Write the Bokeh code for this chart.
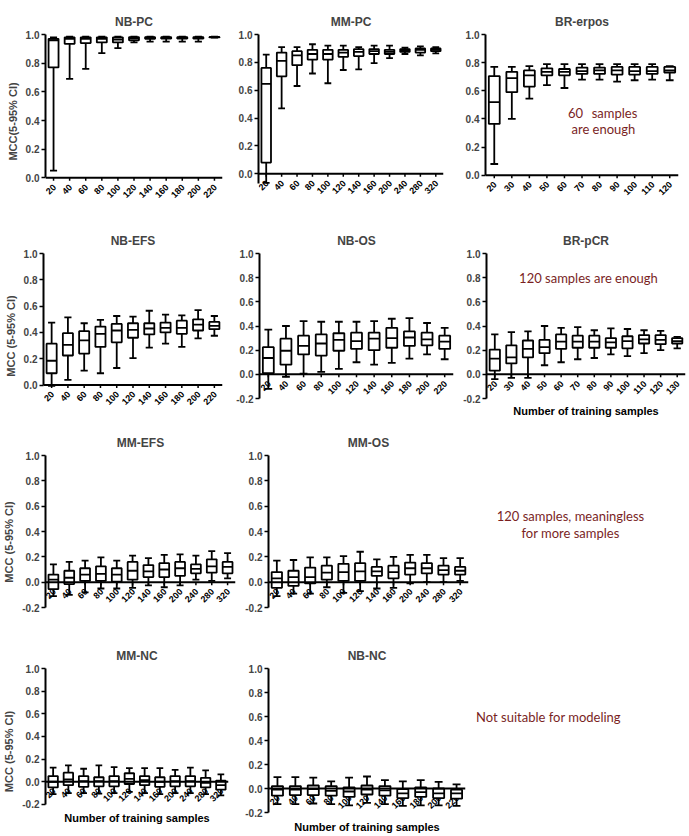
import math
from bokeh.plotting import figure
from bokeh.models import (FixedTicker, PrintfTickFormatter, Label, Range1d, Span,
                          ColumnDataSource, FactorRange)
from bokeh.core.properties import value
from bokeh.layouts import column, row
from bokeh.transform import dodge
from bokeh.embed import file_html
from bokeh.resources import INLINE

FONT = "Liberation Sans"
RED = "#7a1f1f"

# ---------------- data ----------------
NB_CATS = ["20", "40", "60", "80", "100", "120", "140", "160", "180", "200", "220"]
MM_CATS = ["20", "40", "60", "80", "100", "120", "140", "160", "200", "240", "280", "320"]
BRE_CATS = ["20", "30", "40", "50", "60", "70", "80", "90", "100", "110", "120"]
BRP_CATS = ["20", "30", "40", "50", "60", "70", "80", "90", "100", "110", "120", "130"]

NB_PC_LO = [0.05, 0.69, 0.76, 0.87, 0.905, 0.945, 0.95, 0.95, 0.95, 0.95, 0.978]
NB_PC_Q1 = [0.77, 0.935, 0.94, 0.945, 0.945, 0.96, 0.97, 0.972, 0.972, 0.972, 0.98]
NB_PC_MED = [0.96, 0.97, 0.97, 0.97, 0.965, 0.975, 0.978, 0.978, 0.978, 0.978, 0.982]
NB_PC_Q3 = [0.97, 0.98, 0.98, 0.98, 0.98, 0.982, 0.982, 0.982, 0.982, 0.982, 0.983]
NB_PC_HI = [0.98, 0.985, 0.985, 0.985, 0.985, 0.985, 0.985, 0.985, 0.985, 0.985, 0.985]

MM_PC_LO = [-0.065, 0.47, 0.63, 0.72, 0.65, 0.745, 0.75, 0.795, 0.83, 0.86, 0.85, 0.865]
MM_PC_Q1 = [0.08, 0.70, 0.78, 0.82, 0.82, 0.84, 0.845, 0.86, 0.86, 0.875, 0.87, 0.88]
MM_PC_MED = [0.645, 0.81, 0.85, 0.86, 0.86, 0.87, 0.875, 0.88, 0.875, 0.885, 0.89, 0.89]
MM_PC_Q3 = [0.76, 0.87, 0.88, 0.89, 0.89, 0.89, 0.895, 0.895, 0.89, 0.895, 0.90, 0.90]
MM_PC_HI = [0.855, 0.91, 0.91, 0.93, 0.92, 0.92, 0.91, 0.92, 0.92, 0.905, 0.915, 0.91]

BR_ER_LO = [0.08, 0.40, 0.545, 0.64, 0.62, 0.68, 0.68, 0.665, 0.675, 0.68, 0.675]
BR_ER_Q1 = [0.365, 0.59, 0.63, 0.71, 0.71, 0.72, 0.72, 0.715, 0.715, 0.72, 0.73]
BR_ER_MED = [0.52, 0.69, 0.71, 0.735, 0.735, 0.74, 0.745, 0.745, 0.74, 0.74, 0.745]
BR_ER_Q3 = [0.705, 0.735, 0.745, 0.76, 0.755, 0.765, 0.765, 0.77, 0.77, 0.77, 0.77]
BR_ER_HI = [0.77, 0.77, 0.775, 0.79, 0.79, 0.79, 0.79, 0.79, 0.79, 0.79, 0.775]

NB_EFS_LO = [-0.005, 0.04, 0.11, 0.09, 0.13, 0.205, 0.285, 0.315, 0.29, 0.355, 0.375]
NB_EFS_Q1 = [0.09, 0.225, 0.24, 0.29, 0.325, 0.36, 0.385, 0.40, 0.39, 0.415, 0.425]
NB_EFS_MED = [0.185, 0.305, 0.34, 0.39, 0.415, 0.42, 0.43, 0.435, 0.435, 0.46, 0.45]
NB_EFS_Q3 = [0.315, 0.395, 0.41, 0.445, 0.465, 0.47, 0.47, 0.475, 0.49, 0.50, 0.48]
NB_EFS_HI = [0.475, 0.515, 0.47, 0.495, 0.525, 0.52, 0.565, 0.535, 0.53, 0.57, 0.525]

NB_OS_LO = [-0.12, -0.02, 0.005, 0.02, 0.045, 0.10, 0.08, 0.095, 0.13, 0.165, 0.125]
NB_OS_Q1 = [0.01, 0.08, 0.165, 0.155, 0.195, 0.21, 0.20, 0.22, 0.235, 0.24, 0.21]
NB_OS_MED = [0.135, 0.195, 0.235, 0.255, 0.285, 0.275, 0.295, 0.30, 0.305, 0.29, 0.27]
NB_OS_Q3 = [0.225, 0.295, 0.32, 0.33, 0.34, 0.345, 0.345, 0.385, 0.355, 0.345, 0.32]
NB_OS_HI = [0.37, 0.40, 0.44, 0.435, 0.435, 0.435, 0.44, 0.46, 0.465, 0.425, 0.385]

BR_PCR_LO = [-0.04, -0.03, -0.03, 0.075, 0.10, 0.125, 0.135, 0.165, 0.15, 0.175, 0.20, 0.215]
BR_PCR_Q1 = [0.03, 0.09, 0.14, 0.175, 0.21, 0.22, 0.22, 0.22, 0.215, 0.255, 0.25, 0.255]
BR_PCR_MED = [0.13, 0.14, 0.21, 0.225, 0.27, 0.27, 0.27, 0.265, 0.275, 0.29, 0.285, 0.275]
BR_PCR_Q3 = [0.205, 0.24, 0.28, 0.285, 0.33, 0.32, 0.32, 0.30, 0.315, 0.325, 0.325, 0.30]
BR_PCR_HI = [0.33, 0.35, 0.355, 0.40, 0.385, 0.39, 0.365, 0.38, 0.375, 0.365, 0.36, 0.31]

MM_EFS_LO = [-0.11, -0.10, -0.08, -0.05, -0.05, -0.045, -0.025, -0.04, -0.025, 0.02, 0.01, 0.03]
MM_EFS_Q1 = [-0.055, -0.015, 0.01, 0.01, 0.005, 0.02, 0.04, 0.04, 0.05, 0.07, 0.075, 0.07]
MM_EFS_MED = [0.02, 0.035, 0.06, 0.065, 0.06, 0.09, 0.085, 0.10, 0.11, 0.105, 0.125, 0.12]
MM_EFS_Q3 = [0.06, 0.09, 0.11, 0.125, 0.11, 0.16, 0.135, 0.15, 0.16, 0.14, 0.18, 0.16]
MM_EFS_HI = [0.14, 0.16, 0.17, 0.195, 0.17, 0.21, 0.19, 0.215, 0.22, 0.21, 0.245, 0.23]

MM_OS_LO = [-0.11, -0.09, -0.09, -0.04, -0.085, -0.07, -0.05, -0.045, -0.01, 0.0, 0.0, 0.01]
MM_OS_Q1 = [-0.045, -0.03, -0.01, 0.02, 0.01, 0.01, 0.05, 0.03, 0.06, 0.07, 0.06, 0.06]
MM_OS_MED = [0.03, 0.04, 0.04, 0.075, 0.08, 0.085, 0.085, 0.08, 0.11, 0.11, 0.095, 0.09]
MM_OS_Q3 = [0.08, 0.09, 0.115, 0.13, 0.145, 0.15, 0.12, 0.13, 0.155, 0.15, 0.13, 0.12]
MM_OS_HI = [0.17, 0.175, 0.195, 0.195, 0.205, 0.24, 0.18, 0.20, 0.215, 0.215, 0.19, 0.19]

MM_NC_LO = [-0.11, -0.10, -0.10, -0.105, -0.10, -0.09, -0.10, -0.11, -0.10, -0.10, -0.11, -0.12]
MM_NC_Q1 = [-0.05, -0.03, -0.045, -0.04, -0.04, -0.02, -0.03, -0.045, -0.04, -0.04, -0.05, -0.07]
MM_NC_MED = [0.0, 0.02, 0.005, 0.005, 0.005, 0.025, 0.015, 0.0, 0.005, 0.005, -0.01, -0.03]
MM_NC_Q3 = [0.05, 0.08, 0.05, 0.04, 0.05, 0.075, 0.05, 0.04, 0.05, 0.05, 0.035, 0.01]
MM_NC_HI = [0.125, 0.145, 0.115, 0.145, 0.13, 0.12, 0.12, 0.12, 0.105, 0.125, 0.10, 0.065]

NB_NC_LO = [-0.13, -0.13, -0.125, -0.13, -0.14, -0.12, -0.13, -0.145, -0.14, -0.14, -0.145]
NB_NC_Q1 = [-0.06, -0.055, -0.055, -0.06, -0.07, -0.05, -0.06, -0.08, -0.07, -0.08, -0.085]
NB_NC_MED = [-0.01, -0.01, -0.005, -0.02, -0.025, -0.01, -0.015, -0.04, -0.03, -0.04, -0.04]
NB_NC_Q3 = [0.02, 0.02, 0.025, 0.02, 0.01, 0.025, 0.02, -0.005, 0.01, 0.0, -0.01]
NB_NC_HI = [0.095, 0.095, 0.09, 0.06, 0.09, 0.10, 0.07, 0.06, 0.07, 0.055, 0.035]

Y_TICKS_POS = [0.0, 0.2, 0.4, 0.6, 0.8, 1.0]
Y_TICKS_NEG = [-0.2, 0.0, 0.2, 0.4, 0.6, 0.8, 1.0]


def panel(title, cats, lo, q1, med, q3, hi, w, h, bl, br, bt, bb, yb, yticks,
          ylabel=None, xlabel=None, xlabel_gap=37):
    # bt / bb: pixel distance of the value 1.0 from the top and of the axis
    # bottom (yb) from the bottom.  The frame itself runs on below yb so the
    # category labels hanging from the zero line stay inside it.
    ppu = (h - bt - bb) / (1.0 - yb)
    y0 = yb - (bb - 2) / ppu
    p = figure(width=w, height=h, x_range=FactorRange(*cats), y_range=Range1d(y0, 1.0),
               output_backend="svg", toolbar_location=None, tools="",
               x_axis_location=None,
               min_border_left=bl, min_border_right=br, min_border_top=bt,
               min_border_bottom=2)
    p.background_fill_color = "white"
    p.border_fill_color = "white"
    p.outline_line_color = None
    p.xgrid.visible = False
    p.ygrid.visible = False

    src = ColumnDataSource(dict(x=cats, lo=lo, q1=q1, med=med, q3=q3, hi=hi))
    lw = 1.8

    # category axis along y = 0: tick labels, ticks, line
    p.text(x="x", y=-8.0 / ppu, text="x", source=src, angle=math.pi / 4, x_offset=1,
           text_align="right", text_baseline="middle", text_color="black",
           text_font=value(FONT), text_font_style=value("bold"), text_font_size="9px")
    p.segment(x0="x", x1="x", y0=0, y1=-3.0 / ppu, source=src,
              line_color="black", line_width=1.5)

    p.segment(x0="x", y0="lo", x1="x", y1="hi", source=src, line_color="black", line_width=lw)
    p.vbar(x="x", width=0.62, bottom="q1", top="q3", source=src,
           fill_color="white", line_color="black", line_width=lw)
    p.segment(x0=dodge("x", -0.31, range=p.x_range), x1=dodge("x", 0.31, range=p.x_range),
              y0="med", y1="med", source=src, line_color="black", line_width=lw)
    for key in ("lo", "hi"):
        p.segment(x0=dodge("x", -0.22, range=p.x_range), x1=dodge("x", 0.22, range=p.x_range),
                  y0=key, y1=key, source=src, line_color="black", line_width=lw)
    p.add_layout(Span(location=0, dimension="width", line_color="black", line_width=2))

    if xlabel:
        p.add_layout(Label(x=len(cats) / 2.0, y=-xlabel_gap / ppu, text=xlabel,
                           text_font=FONT, text_font_style="bold", text_font_size="11px",
                           text_align="center", text_baseline="middle", text_color="black"))

    p.title.text = title
    p.title.align = "center"
    p.title.text_font = FONT
    p.title.text_font_style = "bold"
    p.title.text_font_size = "12px"
    p.title.standoff = 12

    ya = p.yaxis[0]
    ya.bounds = (yb, 1.0)
    ya.ticker = FixedTicker(ticks=yticks)
    ya.formatter = PrintfTickFormatter(format="%.1f")
    ya.major_label_text_font = FONT
    ya.major_label_text_font_style = "bold"
    ya.major_label_text_font_size = "10px"
    ya.major_label_standoff = 2
    ya.axis_line_width = 2
    ya.major_tick_line_width = 1.5
    ya.major_tick_in = 0
    ya.major_tick_out = 4
    ya.minor_tick_out = 0
    ya.minor_tick_in = 0
    if ylabel:
        ya.axis_label = ylabel
        ya.axis_label_text_font = FONT
        ya.axis_label_text_font_style = "bold"
        ya.axis_label_text_font_size = "11px"
        ya.axis_label_standoff = 4
    return p


def note(p, x, y, text):
    p.add_layout(Label(x=x, y=y, text=text, text_color=RED, text_font="Lato",
                       text_font_size="13px", text_align="center",
                       text_baseline="middle"))


def blank(w, h):
    p = figure(width=w, height=h, x_range=Range1d(0, w), y_range=Range1d(0, h),
               output_backend="svg", toolbar_location=None, tools="", title=None,
               x_axis_location=None, y_axis_location=None,
               min_border_left=0, min_border_right=0, min_border_top=0, min_border_bottom=0)
    p.outline_line_color = None
    p.xgrid.visible = False
    p.ygrid.visible = False
    return p


# ---------------- row 1 ----------------
p1 = panel("NB-PC", NB_CATS, NB_PC_LO, NB_PC_Q1, NB_PC_MED, NB_PC_Q3, NB_PC_HI,
           230, 210, 45, 8, 32, 33, 0.0, Y_TICKS_POS, ylabel="MCC(5-95% CI)")
p2 = panel("MM-PC", MM_CATS, MM_PC_LO, MM_PC_Q1, MM_PC_MED, MM_PC_Q3, MM_PC_HI,
           225, 210, 28, 12, 34, 27, -0.07, Y_TICKS_POS)
p3 = panel("BR-erpos", BRE_CATS, BR_ER_LO, BR_ER_Q1, BR_ER_MED, BR_ER_Q3, BR_ER_HI,
           234, 210, 30, 11, 30, 36, 0.0, Y_TICKS_POS)
note(p3, 5.13, 0.444, "60")
note(p3, 7.35, 0.444, "samples")
note(p3, 6.72, 0.326, "are enough")

# ---------------- row 2 ----------------
p4 = panel("NB-EFS", NB_CATS, NB_EFS_LO, NB_EFS_Q1, NB_EFS_MED, NB_EFS_Q3, NB_EFS_HI,
           230, 210, 43, 8, 35, 37, 0.0, Y_TICKS_POS, ylabel="MCC (5-95% CI)")
p5 = panel("NB-OS", NB_CATS, NB_OS_LO, NB_OS_Q1, NB_OS_MED, NB_OS_Q3, NB_OS_HI,
           225, 210, 29, 2, 43, 22, -0.2, Y_TICKS_NEG)
p6 = panel("BR-pCR", BRP_CATS, BR_PCR_LO, BR_PCR_Q1, BR_PCR_MED, BR_PCR_Q3, BR_PCR_HI,
           234, 210, 31, 4, 43, 22, -0.2, Y_TICKS_NEG, xlabel="Number of training samples",
           xlabel_gap=37)
note(p6, 6.15, 0.80, "120 samples are enough")

# ---------------- row 3 ----------------
p7 = panel("MM-EFS", MM_CATS, MM_EFS_LO, MM_EFS_Q1, MM_EFS_MED, MM_EFS_Q3, MM_EFS_HI,
           242, 210, 43, 7, 35, 23, -0.2, Y_TICKS_NEG, ylabel="MCC (5-95% CI)")
p8 = panel("MM-OS", MM_CATS, MM_OS_LO, MM_OS_Q1, MM_OS_MED, MM_OS_Q3, MM_OS_HI,
           230, 210, 26, 4, 35, 23, -0.2, Y_TICKS_NEG)
t1 = blank(217, 210)
note(t1, 98, 136, "120 samples, meaningless")
note(t1, 98, 116, "for more samples")

# ---------------- row 4 ----------------
p9 = panel("MM-NC", MM_CATS, MM_NC_LO, MM_NC_Q1, MM_NC_MED, MM_NC_Q3, MM_NC_HI,
           242, 206, 40, 14, 33, 33, -0.2, Y_TICKS_NEG, ylabel="MCC (5-95% CI)",
           xlabel="Number of training samples", xlabel_gap=37)
p10 = panel("NB-NC", NB_CATS, NB_NC_LO, NB_NC_Q1, NB_NC_MED, NB_NC_Q3, NB_NC_HI,
            230, 206, 23, 7, 38, 24, -0.2, Y_TICKS_NEG, xlabel="Number of training samples",
            xlabel_gap=38)
t2 = blank(217, 206)
note(t2, 76, 146, "Not suitable for modeling")

layout = column(row(p1, p2, p3), row(p4, p5, p6), row(p7, p8, t1), row(p9, p10, t2))

open("out.html", "w").write(file_html(layout, INLINE))
